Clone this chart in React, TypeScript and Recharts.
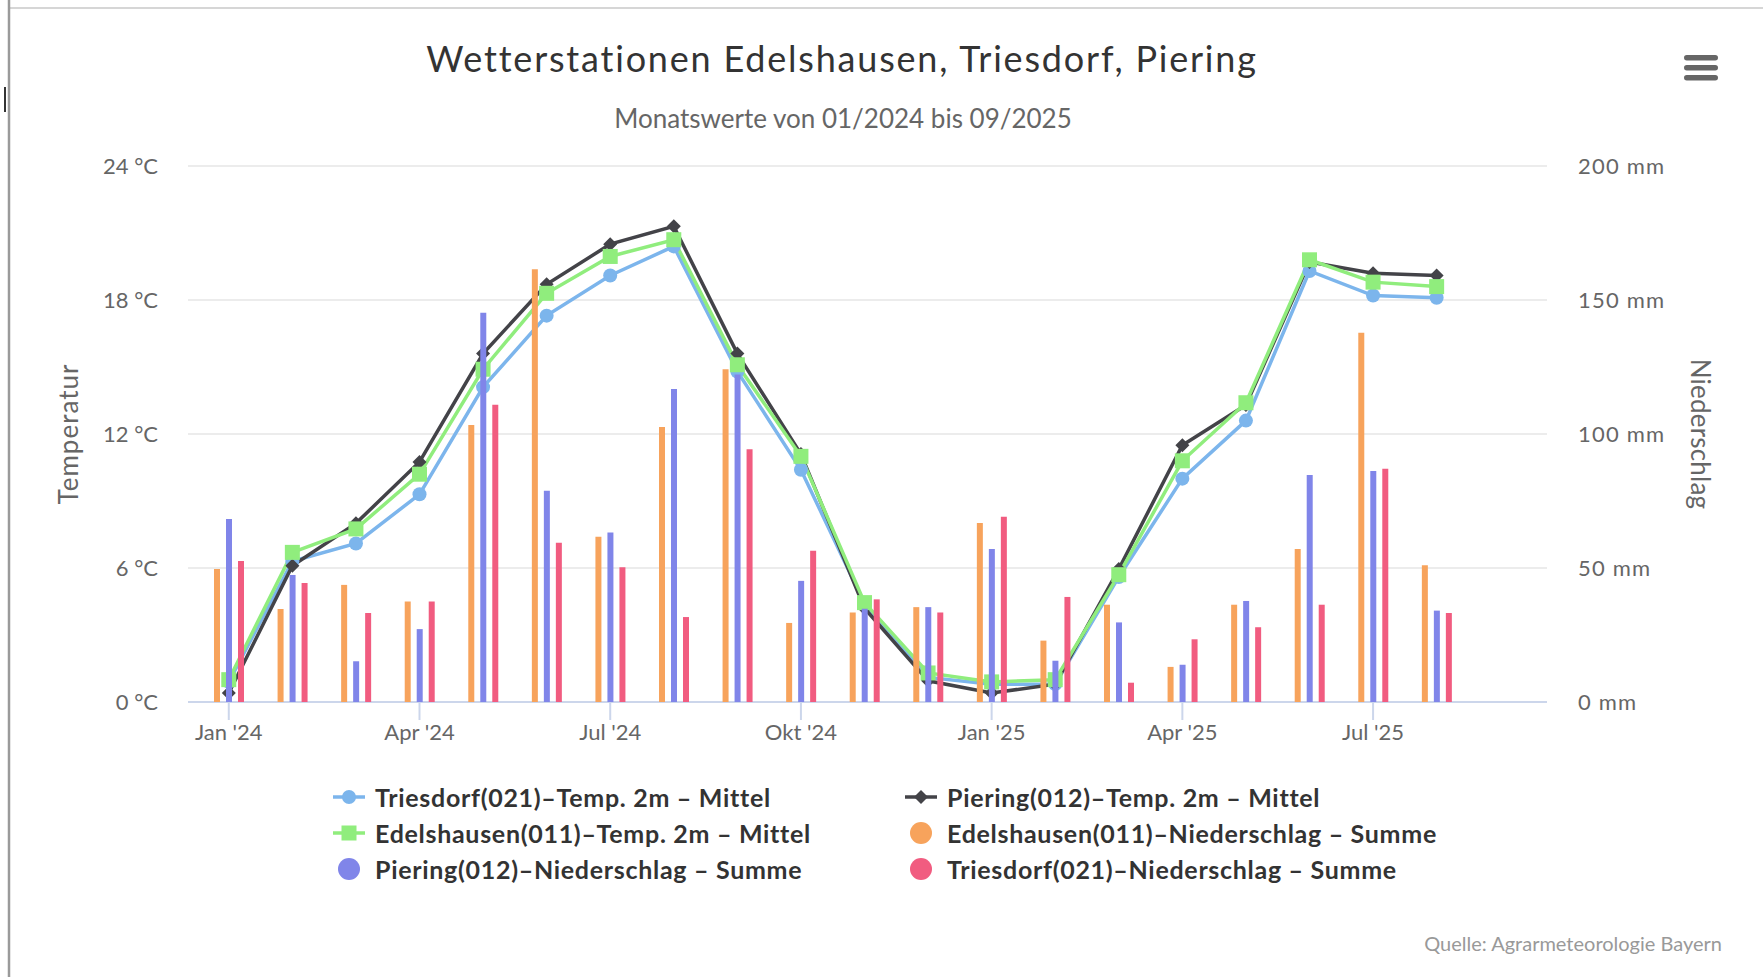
import React from "react";
import { ComposedChart, Line, Bar, XAxis, YAxis, CartesianGrid, Legend } from "recharts";

const months = [
  "Jan '24", "Feb '24", "Mär '24", "Apr '24", "Mai '24", "Jun '24", "Jul '24", "Aug '24", "Sep '24",
  "Okt '24", "Nov '24", "Dez '24", "Jan '25", "Feb '25", "Mär '25", "Apr '25", "Mai '25", "Jun '25",
  "Jul '25", "Aug '25", "Sep '25",
];

// Temp. 2m – Mittel (°C)
const triesdorfTemp = [0.9, 6.3, 7.1, 9.3, 14.1, 17.3, 19.1, 20.4, 14.8, 10.4, 4.4, 1.1, 0.8, 0.8, 5.6, 10.0, 12.6, 19.3, 18.2, 18.1, null];
const pieringTemp = [0.4, 6.1, 8.0, 10.75, 15.6, 18.7, 20.5, 21.3, 15.6, 11.1, 4.2, 0.95, 0.4, 0.8, 5.95, 11.5, 13.3, 19.7, 19.2, 19.1, null];
const edelshausenTemp = [1.0, 6.7, 7.75, 10.2, 14.9, 18.3, 19.95, 20.7, 15.1, 11.0, 4.45, 1.3, 0.9, 1.0, 5.7, 10.8, 13.4, 19.8, 18.8, 18.6, null];

// Niederschlag – Summe (mm)
const edelshausenRain = [49.6, 34.7, 43.7, 37.5, 103.4, 161.5, 61.7, 102.6, 124.2, 29.5, 33.4, 35.4, 66.8, 22.9, 36.3, 13.1, 36.3, 57.1, 137.8, 51.0, null];
const pieringRain = [68.3, 47.4, 15.2, 27.2, 145.2, 78.8, 63.2, 116.8, 122.2, 45.2, 34.8, 35.4, 57.1, 15.4, 29.7, 13.9, 37.7, 84.7, 86.2, 34.1, null];
const triesdorfRain = [52.6, 44.4, 33.2, 37.5, 110.9, 59.4, 50.3, 31.7, 94.3, 56.4, 38.3, 33.4, 69.1, 39.2, 7.2, 23.4, 27.9, 36.3, 87.0, 33.2, null];

const tempTicks = [0, 6, 12, 18, 24];
const rainTicks = [0, 50, 100, 150, 200];

const data = months.map((m, i) => ({
  month: m,
  tTemp: triesdorfTemp[i],
  pTemp: pieringTemp[i],
  eTemp: edelshausenTemp[i],
  eRain: edelshausenRain[i],
  pRain: pieringRain[i],
  tRain: triesdorfRain[i],
}));

const FONT = "Lato, 'Open Sans', sans-serif";
const C_BLUE = "#7cb5ec";
const C_DARK = "#434348";
const C_GREEN = "#90ed7d";
const C_ORANGE = "#f7a35c";
const C_PURPLE = "#8085e9";
const C_PINK = "#f15c80";

const W = 1763;
const H = 977;
// plot area: x 188..1547, y 166..702
const X_PAD = { left: 9, right: 15 };

const circleDot = (p: any) => {
  if (p.cx == null || p.cy == null || p.value == null) return <g key={p.index} />;
  return <circle key={p.index} cx={p.cx} cy={p.cy} r={7} fill={C_BLUE} />;
};
const diamondDot = (p: any) => {
  if (p.cx == null || p.cy == null || p.value == null) return <g key={p.index} />;
  const { cx, cy } = p;
  return <path key={p.index} d={`M${cx} ${cy - 7}L${cx + 7} ${cy}L${cx} ${cy + 7}L${cx - 7} ${cy}Z`} fill={C_DARK} />;
};
const squareDot = (p: any) => {
  if (p.cx == null || p.cy == null || p.value == null) return <g key={p.index} />;
  return <rect key={p.index} x={p.cx - 7.5} y={p.cy - 7.5} width={15} height={15} fill={C_GREEN} />;
};

const legendItems = [
  { name: "Triesdorf(021)–Temp. 2m – Mittel", color: C_BLUE, kind: "circle", col: 0, row: 0 },
  { name: "Piering(012)–Temp. 2m – Mittel", color: C_DARK, kind: "diamond", col: 1, row: 0 },
  { name: "Edelshausen(011)–Temp. 2m – Mittel", color: C_GREEN, kind: "square", col: 0, row: 1 },
  { name: "Edelshausen(011)–Niederschlag – Summe", color: C_ORANGE, kind: "bar", col: 1, row: 1 },
  { name: "Piering(012)–Niederschlag – Summe", color: C_PURPLE, kind: "bar", col: 0, row: 2 },
  { name: "Triesdorf(021)–Niederschlag – Summe", color: C_PINK, kind: "bar", col: 1, row: 2 },
];

const LegendSymbol = ({ kind, color }: { kind: string; color: string }) => (
  <svg width={32} height={24} style={{ display: "block" }}>
    {kind === "bar" ? (
      <circle cx={16} cy={12} r={11} fill={color} />
    ) : (
      <>
        <line x1={0} y1={12} x2={32} y2={12} stroke={color} strokeWidth={3.5} />
        {kind === "circle" && <circle cx={16} cy={12} r={7} fill={color} />}
        {kind === "diamond" && <path d="M16 5L23 12L16 19L9 12Z" fill={color} />}
        {kind === "square" && <rect x={8.5} y={4.5} width={15} height={15} fill={color} />}
      </>
    )}
  </svg>
);

const renderLegend = () => (
  <div style={{ position: "relative", width: W, height: 120 }}>
    {legendItems.map((it) => (
      <div
        key={it.name}
        style={{
          position: "absolute",
          left: 333 + it.col * 572,
          top: 27 + it.row * 36 - 15,
          height: 30,
          display: "flex",
          alignItems: "center",
          whiteSpace: "nowrap",
        }}
      >
        <LegendSymbol kind={it.kind} color={it.color} />
        <span
          style={{
            marginLeft: 10,
            fontFamily: FONT,
            fontWeight: 700,
            fontSize: 25,
            letterSpacing: 0.7,
            color: "#333333",
            lineHeight: "30px",
          }}
        >
          {it.name}
        </span>
      </div>
    ))}
  </div>
);

export default function App() {
  const tickStyle = { fill: "#666666", fontSize: 22, fontFamily: FONT };
  return (
    <div style={{ position: "absolute", left: 0, top: 0, width: W, height: H, background: "#ffffff", overflow: "hidden" }}>
      {/* lines, grid, category and temperature axes */}
      <div style={{ position: "absolute", left: 0, top: 0 }}>
        <ComposedChart width={W} height={H} data={data} margin={{ top: 166, right: 216, bottom: 215, left: 88 }}>
          <CartesianGrid yAxisId="temp" vertical={false} stroke="#e6e6e6" strokeWidth={1.5} />
          <XAxis
            dataKey="month"
            scale="band"
            interval={2}
            height={60}
            padding={X_PAD}
            axisLine={{ stroke: "#ccd6eb", strokeWidth: 2 }}
            tickLine={{ stroke: "#ccd6eb", strokeWidth: 2 }}
            tickSize={18}
            tickMargin={4}
            tick={tickStyle}
          />
          <YAxis
            yAxisId="temp"
            orientation="left"
            width={100}
            domain={[0, 24]}
            ticks={tempTicks}
            axisLine={false}
            tickLine={false}
            tickSize={0}
            tickMargin={30}
            tick={tickStyle}
            tickFormatter={(v: number) => `${v} °C`}
          />
          <Line yAxisId="temp" type="linear" dataKey="tTemp" name="Triesdorf(021)–Temp. 2m – Mittel" stroke={C_BLUE} strokeWidth={3.5} dot={circleDot} activeDot={false} isAnimationActive={false} />
          <Line yAxisId="temp" type="linear" dataKey="pTemp" name="Piering(012)–Temp. 2m – Mittel" stroke={C_DARK} strokeWidth={3.5} dot={diamondDot} activeDot={false} isAnimationActive={false} />
          <Line yAxisId="temp" type="linear" dataKey="eTemp" name="Edelshausen(011)–Temp. 2m – Mittel" stroke={C_GREEN} strokeWidth={3.5} dot={squareDot} activeDot={false} isAnimationActive={false} />
          <Legend
            layout="vertical"
            align="center"
            verticalAlign="middle"
            content={renderLegend}
            wrapperStyle={{ left: 0, top: 770, width: W, height: 120 }}
          />
        </ComposedChart>
      </div>

      {/* columns on the precipitation axis, drawn on top of the lines */}
      <div style={{ position: "absolute", left: 0, top: 0, pointerEvents: "none" }}>
        <ComposedChart width={W} height={H} data={data} margin={{ top: 166, right: 116, bottom: 275, left: 188 }} barGap={6}>
          <XAxis dataKey="month" hide padding={X_PAD} />
          <YAxis
            yAxisId="mm"
            orientation="right"
            width={100}
            domain={[0, 200]}
            ticks={rainTicks}
            axisLine={false}
            tickLine={false}
            tickSize={0}
            tickMargin={31}
            tick={{ ...tickStyle, letterSpacing: 1.2 }}
            tickFormatter={(v: number) => `${v} mm`}
          />
          <Bar yAxisId="mm" dataKey="eRain" name="Edelshausen(011)–Niederschlag – Summe" fill={C_ORANGE} barSize={6} isAnimationActive={false} />
          <Bar yAxisId="mm" dataKey="pRain" name="Piering(012)–Niederschlag – Summe" fill={C_PURPLE} barSize={6} isAnimationActive={false} />
          <Bar yAxisId="mm" dataKey="tRain" name="Triesdorf(021)–Niederschlag – Summe" fill={C_PINK} barSize={6} isAnimationActive={false} />
        </ComposedChart>
      </div>

      <svg width={W} height={H} style={{ position: "absolute", left: 0, top: 0, pointerEvents: "none" }}>
        <line x1={9} y1={8} x2={W} y2={8} stroke="#d6d6d6" strokeWidth={2} />
        <line x1={9} y1={0} x2={9} y2={H} stroke="#9a9a9a" strokeWidth={2.5} />
        <line x1={5} y1={87} x2={5} y2={112} stroke="#333" strokeWidth={2} />
        <text x={842} y={72} textAnchor="middle" fontFamily={FONT} fontSize={36} letterSpacing={1.8} fill="#333333">
          Wetterstationen Edelshausen, Triesdorf, Piering
        </text>
        <text x={843} y={128} textAnchor="middle" fontFamily={FONT} fontSize={26} fill="#666666">
          Monatswerte von 01/2024 bis 09/2025
        </text>
        <text x={78} y={434} textAnchor="middle" fontFamily={FONT} fontSize={26} letterSpacing={1} fill="#666666" transform="rotate(-90 78 434)">
          Temperatur
        </text>
        <text x={1691} y={434} textAnchor="middle" fontFamily={FONT} fontSize={26} letterSpacing={0.2} fill="#666666" transform="rotate(90 1691 434)">
          Niederschlag
        </text>
        <text x={1722} y={951} textAnchor="end" fontFamily={FONT} fontSize={20} fill="#999999">
          Quelle: Agrarmeteorologie Bayern
        </text>
        <g fill="#666666">
          <rect x={1684} y={55} width={34} height={5.5} rx={2.75} />
          <rect x={1684} y={65} width={34} height={5.5} rx={2.75} />
          <rect x={1684} y={75} width={34} height={5.5} rx={2.75} />
        </g>
      </svg>
    </div>
  );
}
